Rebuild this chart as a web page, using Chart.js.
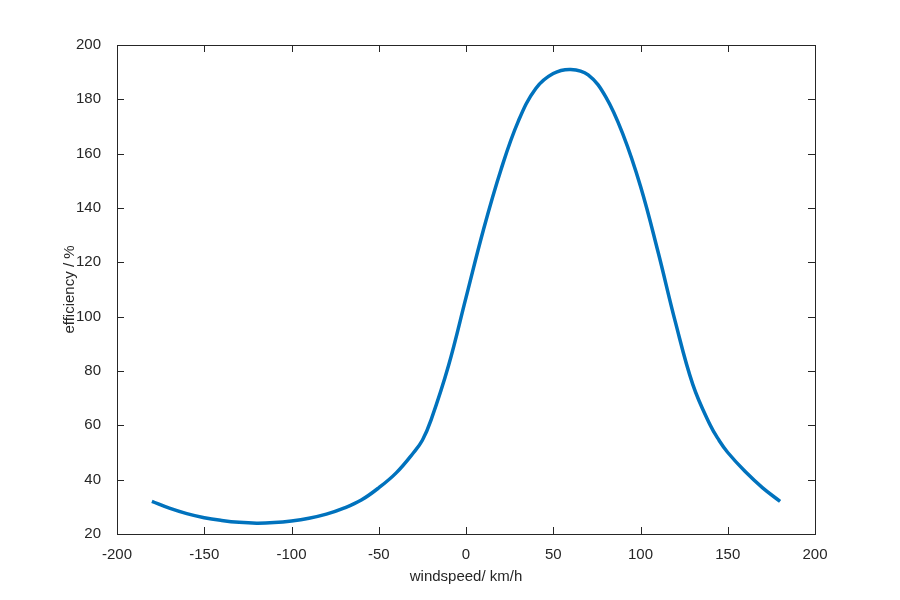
<!DOCTYPE html>
<html><head><script src="https://cdn.jsdelivr.net/npm/chart.js@4"></script>
<style>body{margin:0;background:#fff}#w{width:900px;height:600px}</style></head>
<body><div id="w"><canvas id="c"></canvas></div>
<script>
const windspeed=[-180,-170,-160,-150,-140,-130,-120,-110,-100,-90,-80,-70,-60,-50,-40,-30,-25,-20,-10,0,10,20,30,40,50,60,70,80,90,100,110,120,130,140,145,150,160,170,180];
const efficiency=[32,29.5,27.5,26,25,24.3,24,24.2,24.8,25.8,27.3,29.5,32.5,37,42.5,50,54.5,62,82,107,132,154,172,184,189.5,191,189,181,167,148,124,98,75,60,54.5,50,43,37,32];
const xTicks=[-200,-150,-100,-50,0,50,100,150,200];
const yTicks=[20,40,60,80,100,120,140,160,180,200];
const pts=windspeed.map((x,i)=>({x,y:efficiency[i]}));
const font={family:'"Liberation Sans", Arial, sans-serif',size:15};
const box={id:'box',afterDraw(c){const a=c.chartArea,g=c.ctx;g.save();g.strokeStyle='#262626';g.lineWidth=1;g.strokeRect(a.left+.5,a.top+.5,a.width,a.height);
g.beginPath();c.scales.x.ticks.forEach(t=>{const p=Math.round(c.scales.x.getPixelForValue(t.value))+.5;g.moveTo(p,a.bottom);g.lineTo(p,a.bottom-7);g.moveTo(p,a.top);g.lineTo(p,a.top+7);});
c.scales.y.ticks.forEach(t=>{const p=Math.round(c.scales.y.getPixelForValue(t.value))+.5;g.moveTo(a.left,p);g.lineTo(a.left+7,p);g.moveTo(a.right,p);g.lineTo(a.right-7,p);});g.stroke();g.restore();}};
new Chart(document.getElementById('c'),{type:'scatter',data:{datasets:[{data:pts,showLine:true,borderColor:'#0072BD',borderWidth:3.5,pointRadius:0,tension:0.4}]},
options:{responsive:true,maintainAspectRatio:false,animation:false,layout:{padding:{top:45,right:85,left:57,bottom:10}},
plugins:{legend:{display:false},tooltip:{enabled:false}},
scales:{x:{type:'linear',min:-200,max:200,afterBuildTicks(s){s.ticks=xTicks.map(v=>({value:v}));},afterFit(s){s.height=56;},grid:{display:false},border:{display:false},
ticks:{color:'#262626',font,padding:4,maxRotation:0},title:{display:true,text:'windspeed/ km/h',color:'#262626',font,padding:{top:0}}},
y:{min:20,max:200,afterBuildTicks(s){s.ticks=yTicks.map(v=>({value:v}));},afterFit(s){s.width=60;},grid:{display:false},border:{display:false},
ticks:{color:'#262626',font,padding:8},title:{display:true,text:'efficiency / %',color:'#262626',font,padding:{bottom:0}}}}},plugins:[box]});
</script></body></html>
